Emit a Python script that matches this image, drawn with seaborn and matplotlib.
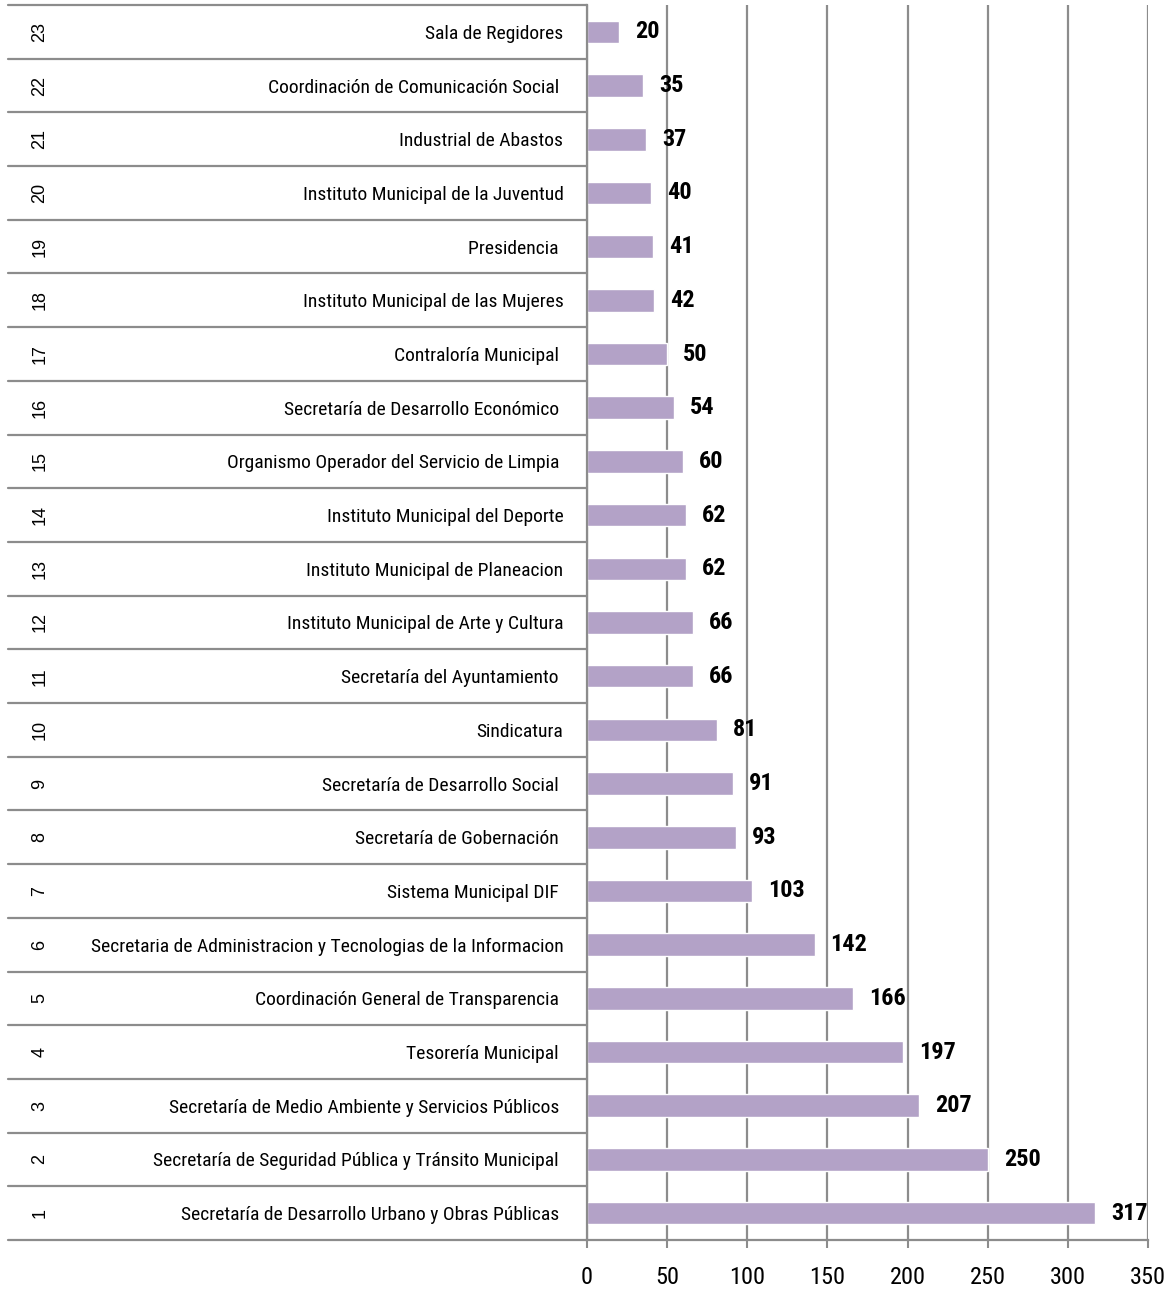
import pandas as pd
import seaborn as sns
import matplotlib.pyplot as plt
import matplotlib.transforms as mtransforms
from matplotlib import font_manager

################################
#            Data              #
################################

numbers = list(range(23, 0, -1))
names = ["Sala de Regidores",
	"Coordinación de Comunicación Social ",
	"Industrial de Abastos",
	"Instituto Municipal de la Juventud",
	"Presidencia ",
	"Instituto Municipal de las Mujeres",
	"Contraloría Municipal ",
	"Secretaría de Desarrollo Económico ",
	"Organismo Operador del Servicio de Limpia ",
	"Instituto Municipal del Deporte",
	"Instituto Municipal de Planeacion",
	"Instituto Municipal de Arte y Cultura",
	"Secretaría del Ayuntamiento ",
	"Sindicatura",
	"Secretaría de Desarrollo Social ",
	"Secretaría de Gobernación ",
	"Sistema Municipal DIF ",
	"Secretaria de Administracion y Tecnologias de la Informacion",
	"Coordinación General de Transparencia ",
	"Tesorería Municipal ",
	"Secretaría de Medio Ambiente y Servicios Públicos ",
	"Secretaría de Seguridad Pública y Tránsito Municipal ",
	"Secretaría de Desarrollo Urbano y Obras Públicas "]
values = [20, 35, 37, 40, 41, 42, 50, 54, 60, 62, 62, 66, 66, 81, 91, 93, 103, 142, 166, 197, 207, 250, 317]
x_ticks = [0, 50, 100, 150, 200, 250, 300, 350]

################################
#        Configuration         #
################################

sns.set_style("white")

# the original uses Arial Narrow, take the closest narrow family installed
prefs = ["Liberation Sans Narrow", "Arial Narrow", "Roboto Condensed", "PT Sans Narrow",
	"Archivo Narrow", "Fira Sans Condensed"]
reg_fonts, bold_fonts = {}, {}
for f in font_manager.fontManager.ttflist:
	if f.style != "normal" or "[" in f.fname:
		continue
	if f.weight == 400:
		reg_fonts.setdefault(f.name, f.fname)
	elif f.weight == 700:
		bold_fonts.setdefault(f.name, f.fname)
family = None
for p in prefs:
	if p in reg_fonts:
		family = p
		break

if family:
	fp_reg = font_manager.FontProperties(fname=reg_fonts[family])
	if family in bold_fonts:
		fp_bold = font_manager.FontProperties(fname=bold_fonts[family])
	else:
		fp_bold = font_manager.FontProperties(fname=reg_fonts[family], weight="bold")
	name_size, tick_size, val_size = 14, 17.5, 17.5
else:
	fp_reg = font_manager.FontProperties(family=["Liberation Sans", "DejaVu Sans"])
	fp_bold = font_manager.FontProperties(family=["Liberation Sans", "DejaVu Sans"], weight="bold")
	name_size, tick_size, val_size = 12.4, 16.5, 15
# row numbers are in plain Arial
fp_num = font_manager.FontProperties(family=["Liberation Sans", "DejaVu Sans"])

plt.rcParams['font.family'] = ['Liberation Sans', 'DejaVu Sans']
plt.rcParams['text.color'] = 'black'
plt.rcParams['xtick.labelcolor'] = 'black'
plt.rcParams['ytick.labelcolor'] = 'black'

bar_color = "#B3A2C7"
line_color = "#8C8C8C"

df = pd.DataFrame({"Nombre": names, "Valor": values})

fig = plt.figure(figsize=(11.72, 12.93), dpi=100)
W, H = 1172, 1293
left, right, top, bottom = 587, 1148, 5, 1240
ax = fig.add_axes([left / W, 1 - bottom / H, (right - left) / W, (bottom - top) / H])

sns.barplot(ax=ax, data=df, x="Valor", y="Nombre", orient="h", color=bar_color,
	width=0.42, saturation=1, order=names)

ax.set_xlim(0, 350)
ax.set_ylim(len(names) - 0.5, -0.5)
ax.set_xticks(x_ticks)
ax.set_xlabel("")
ax.set_ylabel("")
ax.grid(axis="x", color=line_color, lw=1.6)
ax.set_axisbelow(True)
for s in ["top", "right"]:
	ax.spines[s].set_visible(False)
for s in ["left", "bottom"]:
	ax.spines[s].set_color(line_color)
	ax.spines[s].set_linewidth(1.6)

ax.tick_params(axis="x", direction="out", length=6, width=1.5, color=line_color,
	pad=13, bottom=True)
ax.tick_params(axis="y", length=0, pad=17)
for lab in ax.get_xticklabels():
	lab.set_fontproperties(fp_reg)
	lab.set_fontsize(tick_size)
for lab in ax.get_yticklabels():
	lab.set_fontproperties(fp_reg)
	lab.set_fontsize(name_size)

# Value labels
for i, v in enumerate(values):
	ax.annotate(str(v), (v, i), xytext=(11.5, 0), textcoords="offset points",
		va="center", ha="left", fontproperties=fp_bold, fontsize=val_size)

# Table lines and row numbers on the left side
trans = mtransforms.blended_transform_factory(ax.transAxes, ax.transData)
x0 = (8 - left) / (right - left)
for i in range(len(names) + 1):
	ax.plot([x0, 0], [i - 0.5, i - 0.5], transform=trans, color=line_color,
		lw=1.6, clip_on=False)
xn = (40 - left) / (right - left)
for i, n in enumerate(numbers):
	ax.text(xn, i, str(n), transform=trans, rotation=90, ha="center", va="center",
		fontproperties=fp_num, fontsize=13)

fig.savefig("out.png", dpi=100)
